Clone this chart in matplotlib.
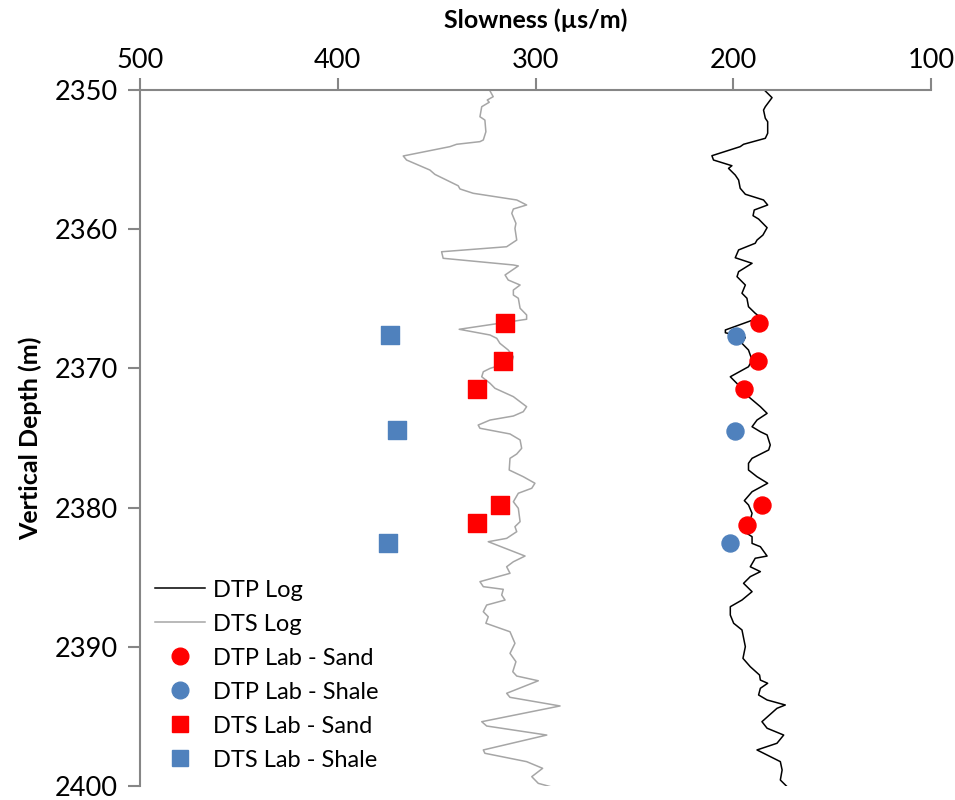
import matplotlib
matplotlib.use("Agg")
import matplotlib.pyplot as plt
from matplotlib.lines import Line2D

plt.rcParams['font.family'] = ['Lato', 'DejaVu Sans']

# DTP log (slowness us/m vs depth m)
dtp_log_depth = [2350.07, 2350.55, 2351.2, 2351.44, 2352.03, 2352.28, 2353.11, 2353.47, 2353.9, 2354.07,
                 2354.72, 2355.03, 2355.44, 2355.63, 2356.11, 2356.47, 2357.06, 2357.49, 2357.9, 2358.26,
                 2358.62, 2359.03, 2359.27, 2359.89, 2360.42, 2360.78, 2361.01, 2361.49, 2362.05, 2362.45,
                 2363.05, 2363.41, 2364.01, 2364.6, 2364.96, 2365.57, 2366.04, 2366.33, 2367.24, 2367.44,
                 2367.77, 2368.2, 2368.68, 2369.4, 2369.88, 2370.6, 2370.96, 2371.55, 2372.03, 2372.75,
                 2373.23, 2373.71, 2374.19, 2374.55, 2374.78, 2375.5, 2375.86, 2376.46, 2376.82, 2377.3,
                 2377.78, 2378.25, 2378.86, 2379.5, 2379.81, 2380.41, 2381.85, 2382.09, 2382.57, 2382.81,
                 2383.48, 2383.64, 2384.25, 2384.6, 2384.96, 2385.44, 2386.04, 2386.64, 2387.12, 2387.72,
                 2388.31, 2388.79, 2389.99, 2390.83, 2391.43, 2392.03, 2392.39, 2392.62, 2392.98, 2393.46,
                 2393.82, 2394.18, 2394.42, 2395.38, 2395.85, 2396.34, 2396.93, 2397.41, 2398.25, 2398.85,
                 2399.57, 2400.16]
dtp_log = [183.8, 180.4, 183.8, 184.7, 183.8, 182.6, 182.6, 183.8, 194.8, 196.5,
           210.8, 210.0, 200.7, 202.4, 199.0, 197.3, 196.5, 193.9, 184.7, 182.6,
           189.4, 190.0, 187.2, 182.9, 185.0, 188.0, 188.9, 197.3, 199.0, 190.5,
           197.3, 198.1, 193.9, 195.6, 193.1, 192.3, 188.9, 186.3, 204.0, 204.0,
           193.9, 195.6, 192.3, 190.5, 192.3, 201.5, 199.0, 194.8, 192.3, 186.3,
           182.9, 188.0, 190.5, 186.3, 182.9, 181.3, 182.1, 190.5, 192.3, 192.3,
           188.0, 182.6, 190.5, 194.4, 192.3, 190.5, 193.1, 190.5, 190.5, 186.3,
           182.9, 188.9, 191.4, 186.3, 191.4, 194.8, 190.5, 195.6, 201.5, 201.5,
           199.8, 195.6, 193.9, 195.1, 191.4, 186.7, 186.3, 182.6, 186.3, 187.2,
           182.9, 173.7, 177.9, 185.5, 182.9, 174.5, 177.9, 188.0, 176.2, 175.3,
           176.2, 172.0]

# DTS log
dts_log_depth = [2350.07, 2350.48, 2350.72, 2350.88, 2351.2, 2351.92, 2352.16, 2353.0, 2353.59, 2353.71,
                 2353.9, 2354.07, 2354.74, 2355.03, 2355.75, 2356.06, 2356.88, 2357.11, 2357.42, 2357.9,
                 2358.26, 2358.55, 2358.86, 2359.58, 2359.94, 2360.78, 2361.26, 2361.62, 2362.09, 2362.57,
                 2362.64, 2363.29, 2363.65, 2364.01, 2364.37, 2364.73, 2364.96, 2365.68, 2366.16, 2366.47,
                 2367.19, 2367.6, 2367.84, 2368.2, 2368.68, 2369.16, 2369.52, 2370.0, 2370.24, 2370.6,
                 2371.07, 2371.43, 2372.03, 2372.75, 2373.11, 2373.42, 2373.71, 2374.07, 2374.3, 2374.71,
                 2375.14, 2375.74, 2376.15, 2376.46, 2377.3, 2377.78, 2378.25, 2378.61, 2378.97, 2379.58,
                 2380.05, 2381.01, 2381.37, 2381.73, 2382.21, 2382.45, 2383.48, 2383.89, 2384.25, 2384.72,
                 2385.32, 2385.68, 2385.87, 2386.28, 2386.64, 2387.0, 2387.48, 2387.84, 2388.31, 2388.92,
                 2389.75, 2390.47, 2391.07, 2391.79, 2392.1, 2392.44, 2393.34, 2393.63, 2394.25, 2395.38,
                 2395.69, 2396.34, 2397.41, 2397.65, 2398.25, 2398.73, 2399.33, 2399.81, 2400.17]
dts_log = [323.0, 321.4, 324.4, 323.4, 327.2, 328.1, 325.6, 325.1, 326.4, 328.1,
           339.9, 343.3, 366.9, 365.2, 353.4, 350.9, 339.1, 338.2, 331.5, 309.5,
           304.5, 311.2, 312.0, 309.9, 310.4, 309.5, 314.6, 347.5, 346.7, 311.2,
           308.7, 315.4, 313.8, 307.8, 311.2, 311.2, 308.7, 307.8, 304.5, 304.5,
           338.6, 323.0, 319.6, 318.0, 313.8, 311.2, 312.0, 323.0, 326.4, 327.2,
           323.0, 320.5, 311.2, 304.5, 306.2, 311.2, 323.0, 329.0, 328.1, 312.9,
           307.8, 307.0, 309.5, 312.9, 313.3, 306.2, 300.3, 301.9, 308.7, 311.2,
           308.7, 307.8, 310.4, 309.5, 314.6, 323.9, 305.3, 311.2, 314.6, 312.9,
           328.1, 326.4, 316.3, 317.1, 315.4, 324.7, 326.4, 323.9, 325.1, 312.9,
           310.4, 312.9, 309.9, 311.5, 309.5, 298.6, 314.6, 312.9, 287.6, 327.2,
           324.7, 294.3, 326.4, 325.6, 304.5, 296.4, 301.9, 298.6, 289.3]

# lab measurements
dtp_sand_depth = [2366.76, 2369.47, 2371.48, 2379.84, 2381.27]
dtp_sand = [186.9, 187.4, 194.5, 185.4, 193.3]
dtp_shale_depth = [2367.65, 2374.47, 2382.57]
dtp_shale = [198.7, 199.2, 201.7]
dts_sand_depth = [2366.76, 2369.49, 2371.5, 2379.83, 2381.12]
dts_sand = [315.3, 316.3, 329.5, 317.8, 329.5]
dts_shale_depth = [2367.62, 2374.45, 2382.57]
dts_shale = [373.5, 369.9, 374.5]

red = '#FF0000'
blue = '#4F81BD'
axis_gray = '#868686'

fig = plt.figure(figsize=(9.55, 8), dpi=100)
ax = fig.add_axes([0.1466, 0.0175, 0.8283, 0.87])

ax.plot(dtp_log, dtp_log_depth, color='black', lw=1.1, label='DTP Log')
ax.plot(dts_log, dts_log_depth, color='#A6A6A6', lw=1.1, label='DTS Log')
ax.scatter(dtp_sand, dtp_sand_depth, s=150, marker='o', color=red, zorder=3, label='DTP Lab - Sand')
ax.scatter(dtp_shale, dtp_shale_depth, s=150, marker='o', color=blue, zorder=3, label='DTP Lab - Shale')
ax.scatter(dts_sand, dts_sand_depth, s=150, marker='s', color=red, zorder=3, label='DTS Lab - Sand')
ax.scatter(dts_shale, dts_shale_depth, s=150, marker='s', color=blue, zorder=3, label='DTS Lab - Shale')

ax.set_xlim(500, 100)
ax.set_ylim(2400, 2350)
ax.set_xticks([500, 400, 300, 200, 100])
ax.set_yticks([2350, 2360, 2370, 2380, 2390, 2400])
ax.xaxis.tick_top()
ax.xaxis.set_label_position('top')

for side in ['right', 'bottom']:
    ax.spines[side].set_visible(False)
for side in ['left', 'top']:
    ax.spines[side].set_color(axis_gray)
    ax.spines[side].set_linewidth(1.5)
ax.tick_params(axis='both', direction='out', length=9, width=1.5, color=axis_gray,
               labelsize=19.5)
ax.tick_params(axis='x', pad=3)
ax.tick_params(axis='y', pad=7)
ax.set_xlabel('Slowness (µs/m)', fontsize=18, fontweight='bold', labelpad=15)
ax.set_ylabel('Vertical Depth (m)', fontsize=18, fontweight='bold', labelpad=9)

handles = [Line2D([], [], color='black', lw=1.1),
           Line2D([], [], color='#A6A6A6', lw=1.1),
           Line2D([], [], ls='', marker='o', ms=12, color=red),
           Line2D([], [], ls='', marker='o', ms=12, color=blue),
           Line2D([], [], ls='', marker='s', ms=12, color=red),
           Line2D([], [], ls='', marker='s', ms=12, color=blue)]
labels = ['DTP Log', 'DTS Log', 'DTP Lab - Sand', 'DTP Lab - Shale', 'DTS Lab - Sand', 'DTS Lab - Shale']
ax.legend(handles, labels, loc='lower left', bbox_to_anchor=(0.0, 0.0), frameon=False,
          fontsize=17, handlelength=2.1, handletextpad=0.35, labelspacing=0.55,
          borderaxespad=0.25)

fig.savefig('out.png', dpi=100)
